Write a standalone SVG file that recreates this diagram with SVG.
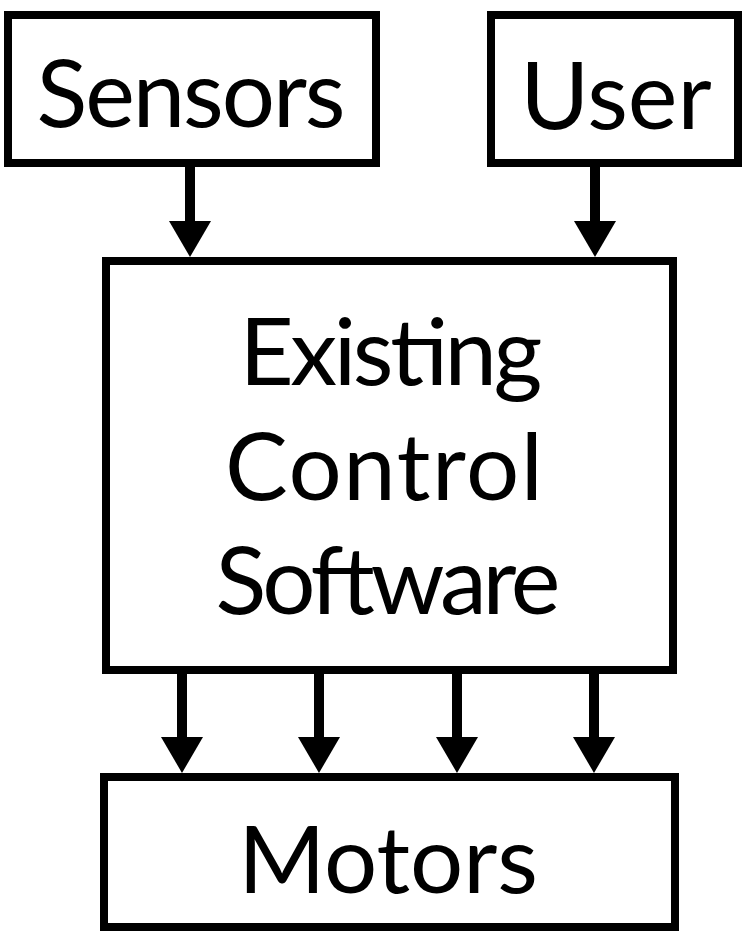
<svg xmlns="http://www.w3.org/2000/svg" width="751" height="948" viewBox="0 0 751 948">
<style>
.box{fill:#fff;stroke:#000;stroke-width:8}
.lbl{font-family:Lato,"Open Sans","Liberation Sans",sans-serif;font-size:94px;fill:#000;text-anchor:middle}
.edge{stroke:#000;stroke-width:10;fill:none}
</style>
<defs>
<polygon id="ah" points="-21,-36 21,-36 0,0" fill="#000"/>
</defs>
<g id="sensors">
<rect class="box" x="8" y="15" width="368" height="148"/>
<text class="lbl" x="191" y="127" textLength="309">Sensors</text>
</g>
<g id="user">
<rect class="box" x="491" y="15" width="247" height="148"/>
<text class="lbl" x="616" y="129">User</text>
</g>
<g id="control">
<rect class="box" x="106" y="261" width="567" height="409"/>
<text class="lbl" x="391" y="385" textLength="303">Existing</text>
<text class="lbl" x="384" y="500" textLength="318">Control</text>
<text class="lbl" x="388" y="614" textLength="345">Software</text>
</g>
<g id="motors">
<rect class="box" x="104" y="777" width="571" height="150"/>
<text class="lbl" x="388" y="893">Motors</text>
</g>
<g id="connectors">
<line class="edge" x1="190" y1="167" x2="190" y2="222"/>
<use href="#ah" x="190" y="257"/>
<line class="edge" x1="595" y1="167" x2="595" y2="222"/>
<use href="#ah" x="595" y="257"/>
<line class="edge" x1="182" y1="674" x2="182" y2="738"/>
<use href="#ah" x="182" y="773"/>
<line class="edge" x1="319" y1="674" x2="319" y2="738"/>
<use href="#ah" x="319" y="773"/>
<line class="edge" x1="457" y1="674" x2="457" y2="738"/>
<use href="#ah" x="457" y="773"/>
<line class="edge" x1="594" y1="674" x2="594" y2="738"/>
<use href="#ah" x="594" y="773"/>
</g>
</svg>
